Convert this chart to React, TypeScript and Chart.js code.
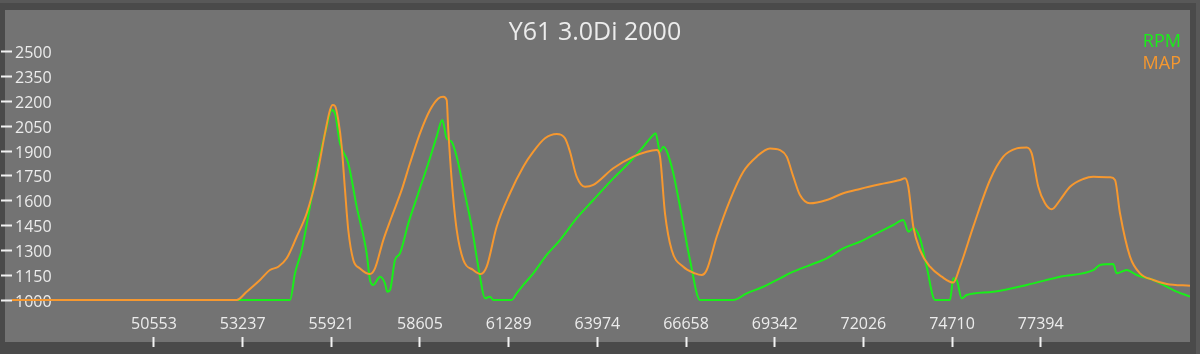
import React, { useEffect, useRef } from "react";
import { Chart, registerables } from "chart.js";

Chart.register(...registerables);

const TITLE = "Y61 3.0Di 2000";
const X_TICKS = [50553, 53237, 55921, 58605, 61289, 63974, 66658, 69342, 72026, 74710, 77394];
const Y_TICKS = [1000, 1150, 1300, 1450, 1600, 1750, 1900, 2050, 2200, 2350, 2500];

const RPM_LABEL = "RPM";
const MAP_LABEL = "MAP";

const RPM_X = [46255, 54670, 54821, 55024, 55275, 55526, 55781, 55932, 56032, 56183, 56434, 56689, 56991, 57091, 57191, 57394, 57545, 57615, 57697, 57848, 57999, 58251, 58553, 58856, 59110, 59280, 59413, 59564, 59716, 59916, 60170, 60421, 60572, 60724, 60824, 61381, 61532, 61732, 62034, 62440, 62843, 63348, 63851, 64456, 64962, 65364, 65618, 65739, 65870, 65970, 66224, 66475, 66778, 67080, 68088, 68494, 68996, 69502, 69905, 70410, 70916, 71418, 71924, 72429, 72932, 73235, 73386, 73537, 73740, 73943, 74194, 74648, 74748, 74851, 75002, 75153, 75959, 76970, 77978, 78986, 79188, 79591, 79694, 79997, 80299, 80802, 81407, 81913];
const RPM_Y = [1000, 1000, 1161, 1302, 1564, 1826, 2047, 2148, 2128, 1947, 1826, 1564, 1282, 1121, 1091, 1141, 1101, 1050, 1060, 1242, 1282, 1463, 1645, 1826, 1987, 2087, 1977, 1956, 1866, 1684, 1443, 1141, 1010, 1020, 1000, 1000, 1040, 1091, 1161, 1272, 1362, 1494, 1604, 1735, 1835, 1926, 1987, 2007, 1896, 1926, 1805, 1564, 1242, 1000, 1000, 1040, 1080, 1131, 1171, 1211, 1252, 1312, 1352, 1403, 1453, 1483, 1413, 1433, 1373, 1201, 1000, 1000, 1131, 1121, 1010, 1030, 1050, 1091, 1141, 1181, 1211, 1217, 1161, 1181, 1151, 1121, 1060, 1020];

const MAP_X = [46255, 53056, 53359, 53762, 54064, 54316, 54570, 54873, 55175, 55478, 55729, 55881, 55962, 56032, 56132, 56235, 56335, 56434, 56586, 56789, 57091, 57243, 57494, 57748, 58051, 58302, 58605, 58908, 59159, 59310, 59413, 59461, 59564, 59716, 59916, 60218, 60442, 60624, 60926, 61329, 61732, 62034, 62389, 62743, 62994, 63145, 63348, 63599, 63851, 64456, 65062, 65467, 65770, 65870, 66021, 66224, 66575, 66929, 67132, 67283, 67586, 67989, 68391, 68797, 69199, 69502, 69705, 69905, 70107, 70410, 70916, 71418, 71924, 72529, 73134, 73286, 73386, 73537, 73740, 74043, 74397, 74748, 74951, 75353, 75859, 76261, 76667, 76970, 77121, 77321, 77524, 77726, 77978, 78281, 78683, 78986, 79491, 79643, 79794, 80097, 80399, 80802, 81208, 81913];
const MAP_Y = [1000, 1000, 1050, 1121, 1181, 1201, 1252, 1382, 1524, 1745, 2007, 2148, 2178, 2172, 2087, 1926, 1665, 1423, 1242, 1191, 1157, 1191, 1362, 1503, 1665, 1826, 2007, 2148, 2218, 2228, 2208, 2027, 1725, 1423, 1242, 1181, 1157, 1201, 1443, 1645, 1805, 1896, 1977, 2003, 1977, 1896, 1745, 1684, 1695, 1796, 1866, 1896, 1906, 1866, 1524, 1302, 1201, 1161, 1151, 1181, 1382, 1604, 1775, 1866, 1916, 1906, 1866, 1745, 1634, 1584, 1604, 1645, 1671, 1699, 1725, 1735, 1684, 1443, 1302, 1201, 1141, 1105, 1201, 1443, 1725, 1866, 1916, 1922, 1886, 1684, 1584, 1548, 1604, 1684, 1731, 1745, 1741, 1725, 1524, 1262, 1161, 1121, 1097, 1086];

const X_MIN = 46255;
const X_MAX = 81913;
const Y_MIN = 776.5;
const Y_MAX = 2522.4;

const GREEN = "#19ef19";
const ORANGE = "#f6982f";
const TEXT = "#ececec";
const FONT = "'Open Sans', 'Noto Sans', sans-serif";

const zip = (xs: number[], ys: number[]) =>
  xs.slice(0, Math.min(xs.length, ys.length)).map((x, i) => ({ x, y: ys[i] }));

const framePlugin = {
  id: "frame",
  beforeDraw(chart: any) {
    const ctx = chart.ctx;
    const w = chart.width;
    const h = chart.height;
    ctx.save();
    ctx.fillStyle = "#4a4a4a";
    ctx.fillRect(0, 0, w, h);
    ctx.fillStyle = "#585858";
    ctx.fillRect(0, 0, w, 3);
    ctx.fillRect(w - 4, 0, 4, h);
    ctx.fillStyle = "#737373";
    ctx.fillRect(5, 10, 1185, 332);
    ctx.restore();
  },
};

const legendPlugin = {
  id: "textLegend",
  afterDraw(chart: any) {
    const ctx = chart.ctx;
    ctx.save();
    ctx.font = `18px ${FONT}`;
    ctx.textAlign = "right";
    ctx.textBaseline = "middle";
    chart.data.datasets.forEach((ds: any, i: number) => {
      ctx.fillStyle = ds.borderColor;
      ctx.fillText(ds.label, 1181, 41.5 + i * 22.7);
    });
    ctx.restore();
  },
};

export default function App() {
  const ref = useRef<HTMLCanvasElement | null>(null);
  useEffect(() => {
    if (!ref.current) return;
    const chart = new Chart(ref.current, {
      type: "line",
      data: {
        datasets: [
          {
            label: RPM_LABEL,
            data: zip(RPM_X, RPM_Y),
            borderColor: GREEN,
            backgroundColor: GREEN,
            borderWidth: 2,
            pointRadius: 0,
            cubicInterpolationMode: "monotone",
            order: 2,
          },
          {
            label: MAP_LABEL,
            data: zip(MAP_X, MAP_Y),
            borderColor: ORANGE,
            backgroundColor: ORANGE,
            borderWidth: 2,
            pointRadius: 0,
            cubicInterpolationMode: "monotone",
            order: 1,
          },
        ],
      },
      options: {
        responsive: false,
        animation: false,
        events: [],
        layout: { padding: { left: 0, right: 10, top: 0, bottom: 0 } },
        plugins: {
          legend: { display: false },
          tooltip: { enabled: false },
          title: {
            display: true,
            text: TITLE,
            color: TEXT,
            font: { family: FONT, size: 25, weight: "normal", lineHeight: 1.24 },
            padding: { top: 17, bottom: 0 },
          },
        },
        scales: {
          x: {
            type: "linear",
            min: X_MIN,
            max: X_MAX,
            afterBuildTicks: (scale: any) => {
              scale.ticks = X_TICKS.map((v) => ({ value: v }));
            },
            afterFit: (scale: any) => {
              scale.height = 17;
            },
            border: { display: false },
            grid: {
              drawOnChartArea: false,
              drawTicks: true,
              tickLength: 10,
              tickWidth: 2,
              tickColor: "#f2f2f2",
            },
            ticks: {
              mirror: true,
              padding: 3,
              autoSkip: false,
              maxRotation: 0,
              color: TEXT,
              font: { family: FONT, size: 16 },
              callback: (v: any) => String(v),
            },
          },
          y: {
            type: "linear",
            min: Y_MIN,
            max: Y_MAX,
            afterBuildTicks: (scale: any) => {
              scale.ticks = Y_TICKS.map((v) => ({ value: v }));
            },
            afterFit: (scale: any) => {
              scale.width = 12;
            },
            border: { display: false },
            grid: {
              drawOnChartArea: false,
              drawTicks: true,
              tickLength: 11,
              tickWidth: 2,
              tickColor: "#f2f2f2",
            },
            ticks: {
              mirror: true,
              padding: 3,
              labelOffset: 2,
              autoSkip: false,
              color: TEXT,
              font: { family: FONT, size: 16 },
              callback: (v: any) => String(v),
            },
          },
        },
      },
      plugins: [framePlugin, legendPlugin],
    } as any);
    return () => chart.destroy();
  }, []);
  return (
    <div style={{ position: "absolute", left: 0, top: 0, width: 1200, height: 354 }}>
      <canvas ref={ref} width={1200} height={354} style={{ display: "block" }} />
    </div>
  );
}
